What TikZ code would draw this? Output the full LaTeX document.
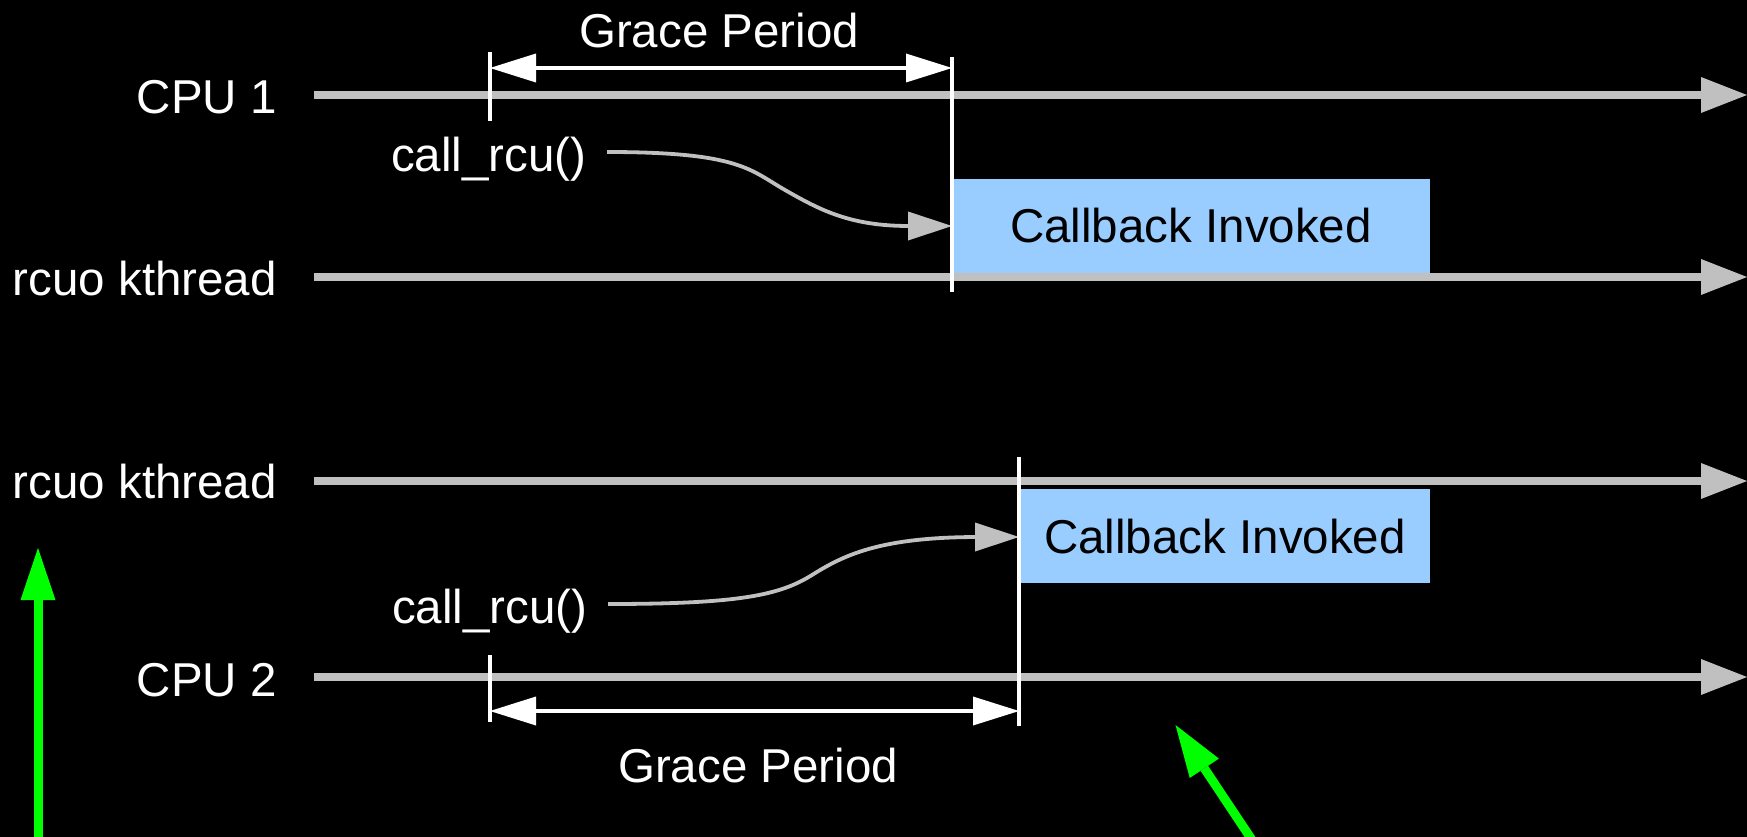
\documentclass[tikz,border=0pt]{standalone}
\usepackage{fontspec}
\setmainfont{Liberation Sans}
\usetikzlibrary{arrows.meta}
\definecolor{tl}{HTML}{C0C0C0}
\definecolor{cbfill}{HTML}{99CCFF}
\definecolor{grn}{HTML}{00FF00}
\begin{document}
\begin{tikzpicture}[x=1pt,y=-1pt,
  lbl/.style={text=white,inner sep=0pt,font=\fontsize{47.5}{57}\selectfont},
  timeline/.style={draw=tl,line width=8.5pt,-{Triangle[length=46pt,width=36pt,line width=0pt]}},
  cbbox/.style={fill=cbfill,inner sep=0pt,text=black,font=\fontsize{47.5}{57}\selectfont},
  tick/.style={draw=white,line width=3.4pt},
  gparrow/.style={draw=white,line width=3.4pt,{Triangle[length=46pt,width=29pt,line width=0pt]}-{Triangle[length=46pt,width=29pt,line width=0pt]}},
  callarrow/.style={draw=tl,line width=3.8pt,-{Triangle[length=44pt,width=29pt,line width=0pt]}},
  greenarrow/.style={draw=grn,line width=9pt,-{Triangle[length=52pt,width=35pt,line width=0pt]}}
]
\fill[black] (0,0) rectangle (1747,837);
\useasboundingbox (0,0) rectangle (1747,837);

% callback boxes
\node[cbbox,anchor=north west,minimum width=476pt,minimum height=94pt] (cb1) at (954,179) {};
\node[cbbox,anchor=north west,minimum width=409pt,minimum height=94pt] (cb2) at (1021,489) {};
\node[cbbox,fill=none] (cbt1) at (1191,226) {Callback Invoked};
\node[cbbox,fill=none] (cbt2) at (1225,537) {Callback Invoked};

% labels
\node[lbl,anchor=base east] (lcpu1) at (277,114) {CPU 1};
\node[lbl,anchor=base east] (lrc1) at (277,295) {rcuo kthread};
\node[lbl,anchor=base east] (lrc2) at (277,498) {rcuo kthread};
\node[lbl,anchor=base east] (lcpu2) at (277,696) {CPU 2};

% timelines
\coordinate (t1s) at (314,95);  \coordinate (t1e) at (1747,95);
\coordinate (t2s) at (314,277); \coordinate (t2e) at (1747,277);
\coordinate (t3s) at (314,481); \coordinate (t3e) at (1747,481);
\coordinate (t4s) at (314,677); \coordinate (t4e) at (1747,677);
\draw[timeline] (t1s) -- (t1e);
\draw[timeline] (t2s) -- (t2e);
\draw[timeline] (t3s) -- (t3e);
\draw[timeline] (t4s) -- (t4e);

% call_rcu labels
\node[lbl,anchor=base west] (call1) at (391,172) {call\_rcu()};
\node[lbl,anchor=base west] (call2) at (392,623) {call\_rcu()};

% call_rcu curves
\coordinate (c1s) at (607,152); \coordinate (c1e) at (952,226);
\coordinate (c2s) at (608,604); \coordinate (c2e) at (1019,537);
\draw[callarrow] (c1s) .. controls (740,152) and (750,170) .. (785,190)
  .. controls (820,210) and (850,226) .. (909,226) -- (c1e);
\draw[callarrow] (c2s) .. controls (740,604) and (780,595) .. (812,575)
  .. controls (844,555) and (880,537) .. (979,537) -- (c2e);

% grace period ticks (top)
\coordinate (k1a) at (490,52);  \coordinate (k1b) at (490,121);
\coordinate (k2a) at (952,57);  \coordinate (k2b) at (952,292);
\draw[tick] (k1a) -- (k1b);
\draw[tick] (k2a) -- (k2b);
\coordinate (g1a) at (490,68); \coordinate (g1b) at (952,68);
\draw[gparrow] (g1a) -- (g1b);
\node[lbl,anchor=base] (gp1) at (719,48) {Grace Period};

% grace period ticks (bottom)
\coordinate (k3a) at (490,655);  \coordinate (k3b) at (490,722);
\coordinate (k4a) at (1019,457); \coordinate (k4b) at (1019,726);
\draw[tick] (k3a) -- (k3b);
\draw[tick] (k4a) -- (k4b);
\coordinate (g2a) at (490,711); \coordinate (g2b) at (1019,711);
\draw[gparrow] (g2a) -- (g2b);
\node[lbl,anchor=base] (gp2) at (758,782) {Grace Period};

% green arrows
\coordinate (ga1s) at (38,840); \coordinate (ga1e) at (38,548);
\draw[greenarrow] (ga1s) -- (ga1e);
\coordinate (ga2s) at (1252,840); \coordinate (ga2e) at (1175.5,725);
\draw[greenarrow] (ga2s) -- (ga2e);
\end{tikzpicture}
\end{document}
